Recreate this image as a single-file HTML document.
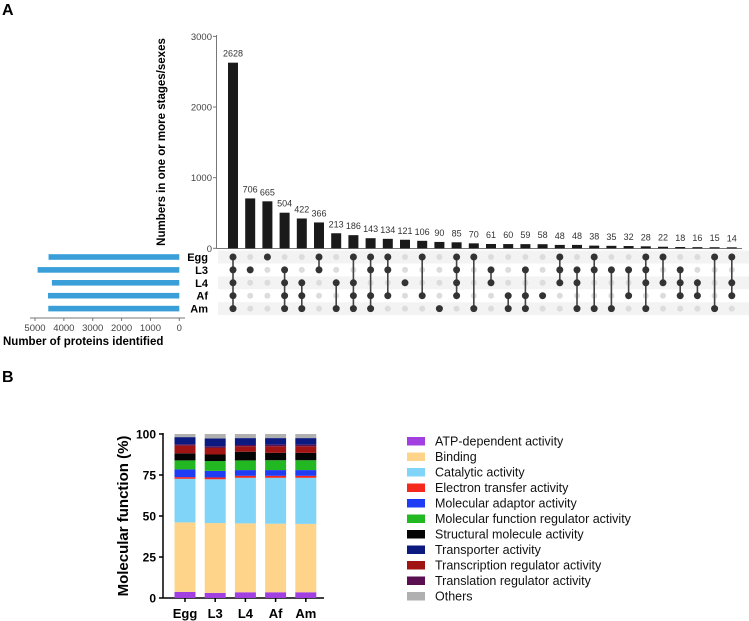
<!DOCTYPE html>
<html><head><meta charset="utf-8"><style>
html,body{margin:0;padding:0;background:#fff;}
svg{display:block;font-family:"Liberation Sans",Arial,sans-serif;}
</style></head><body>
<svg id="c" width="749" height="621" viewBox="0 0 749 621">
<text x="2" y="15" font-size="16" font-weight="bold">A</text>
<text x="2" y="382" font-size="16" font-weight="bold">B</text>
<g id="up"></g>
<g id="mf"></g>
</svg>
<script>
const interCounts=[2628,706,665,504,422,366,213,186,143,134,121,106,90,85,70,61,60,59,58,48,48,38,35,32,28,22,18,16,15,14];
const sets=["Egg","L3","L4","Af","Am"];
const interSets=[
[0,1,2,3,4],[1],[0],[1,2,3,4],[2,3,4],[0,1],[2,4],[0,2,3,4],[0,1,3,4],[0,1,3],
[2],[0,3],[4],[0,1,2,3],[0,4],[1,2],[3,4],[1,3,4],[3],[0,1,2],
[1,2,4],[0,1,4],[1,4],[1,3],[0,1,2,4],[0,2],[1,2,3],[2,3],[0,4],[0,2,3]];
const setSizes=[4530,4910,4415,4550,4540];
const yTicks=[0,1000,2000,3000];
const sizeTicks=[5000,4000,3000,2000,1000,0];
const groups=["Egg","L3","L4","Af","Am"];
const mfCats=["ATP-dependent activity","Binding","Catalytic activity","Electron transfer activity","Molecular adaptor activity","Molecular function regulator activity","Structural molecule activity","Transporter activity","Transcription regulator activity","Translation regulator activity","Others"];
const mfColors=["#a23fe0","#fdd48a","#80d4f8","#f5281e","#1f3cf5","#22b822","#050505","#0c1a80","#a01414","#5a1050","#b0b0b0"];
// percentages per category for each group
const mfEgg=[3.7,42.4,26.6,1.0,4.7,5.5,4.3,4.4,4.7,0.8,1.9];
const mfL3=[3.1,42.6,26.7,1.1,4.0,6.0,4.0,4.8,4.0,1.0,2.7];
const mfL4=[3.5,42.0,27.8,1.2,3.5,5.9,5.3,4.2,3.3,0.8,2.5];
const mfAf=[3.5,41.8,28.0,1.2,3.5,6.0,4.5,4.0,4.0,1.0,2.5];
const mfAm=[3.5,41.7,28.1,1.2,3.5,6.0,4.5,4.0,4.0,1.0,2.5];
const mfData=[mfEgg,mfL3,mfL4,mfAf,mfAm];
const stackOrder=[0,1,2,3,4,5,6,8,9,7,10];
const tMF=[0,25,50,75,100];

const NS="http://www.w3.org/2000/svg";
function mk(p,t,a,txt){const e=document.createElementNS(NS,t);for(const k in a)e.setAttribute(k,a[k]);if(txt!==undefined)e.textContent=txt;p.appendChild(e);return e;}
const up=document.getElementById('up');
const colX=i=>233+i*17.2;
const yB=v=>248.3-v*211.9/3000;
const rowY=j=>257+j*12.9;
const xS=v=>179.3-v*(179.3-35)/5000;
// axis
let e=mk(up,'line',{x1:216.5,y1:35,x2:216.5,y2:248.5,stroke:'#777','stroke-width':1});

yTicks.forEach(t=>{
 mk(up,'line',{x1:213,x2:216.5,y1:yB(t),y2:yB(t),stroke:'#777'});
 e=mk(up,'text',{x:212,y:yB(t)+3.5,'font-size':9.5,fill:'#444','text-anchor':'end'},t);
 
});
mk(up,'line',{x1:216.5,x2:742,y1:248.5,y2:248.5,stroke:'#777'});
e=mk(up,'text',{transform:'translate(165,142) rotate(-90)','font-size':11.5,'font-weight':'bold','text-anchor':'middle'},'Numbers in one or more stages/sexes');

// stripes
sets.forEach((s,j)=>{
 if(j%2==0){mk(up,'rect',{x:218,y:rowY(j)-6.4,width:531,height:12.9,fill:'#f3f3f3'});}
 e=mk(up,'text',{x:208,y:rowY(j)+4,'font-size':11,'font-weight':'bold','text-anchor':'end'},s);
 
 e=mk(up,'rect',{x:xS(setSizes[j]),y:rowY(j)-2.8,width:xS(0)-xS(setSizes[j]),height:5.6,fill:'#3a9fd8'});
 
});
interCounts.forEach((v,i)=>{
 const x=colX(i);
 e=mk(up,'rect',{x:x-5,y:yB(v),width:10,height:yB(0)-yB(v),fill:'#1a1a1a'});
 
 mk(up,'text',{x:x,y:yB(v)-6,'font-size':9,fill:'#333','text-anchor':'middle'},v);
 sets.forEach((s,j)=>mk(up,'circle',{cx:x,cy:rowY(j),r:3,fill:'#dcdcdc'}));
 const st=interSets[i];
 if(st.length>1)mk(up,'line',{x1:x,x2:x,y1:rowY(Math.min(...st)),y2:rowY(Math.max(...st)),stroke:'#444','stroke-width':1.6});
 st.forEach(j=>{e=mk(up,'circle',{cx:x,cy:rowY(j),r:3.5,fill:'#333'});
  });
});
mk(up,'line',{x1:30,x2:185,y1:318,y2:318,stroke:'#777'});
sizeTicks.forEach(t=>{
 mk(up,'line',{x1:xS(t),x2:xS(t),y1:318,y2:321,stroke:'#777'});
 e=mk(up,'text',{x:xS(t),y:331,'font-size':9.5,fill:'#444','text-anchor':'middle'},t);
 
});
e=mk(up,'text',{x:3,y:345,'font-size':11.5,'font-weight':'bold'},'Number of proteins identified');


// Panel B
const mf=document.getElementById('mf');
const yM=v=>598-v*1.64;
const gx=i=>185+i*30.2;
e=mk(mf,'line',{x1:163,x2:163,y1:433,y2:598,stroke:'#000','stroke-width':1.5});

mk(mf,'line',{x1:163,x2:324,y1:598,y2:598,stroke:'#000','stroke-width':1.5});
tMF.forEach(t=>{
 mk(mf,'line',{x1:159,x2:163,y1:yM(t),y2:yM(t),stroke:'#000','stroke-width':1.5});
 e=mk(mf,'text',{x:156,y:yM(t)+4.5,'font-size':12,'font-weight':'bold','text-anchor':'end'},t);
 
});
e=mk(mf,'text',{transform:'translate(128,516) rotate(-90)','font-size':15,'font-weight':'bold','text-anchor':'middle'},'Molecular function (%)');

groups.forEach((g,i)=>{
 let acc=0;
 stackOrder.forEach(k=>{
  const v=mfData[i][k];
  e=mk(mf,'rect',{x:gx(i)-10.5,y:yM(acc+v),width:21,height:yM(acc)-yM(acc+v),fill:mfColors[k]});
  
  acc+=v;
 });
 mk(mf,'line',{x1:gx(i),x2:gx(i),y1:598,y2:602,stroke:'#000','stroke-width':1.5});
 e=mk(mf,'text',{x:gx(i),y:618,'font-size':13,'font-weight':'bold','text-anchor':'middle'},g);
 
});
mfCats.forEach((c,k)=>{
 const y=441+k*15.5;
 e=mk(mf,'rect',{x:407,y:y-4,width:18,height:8.5,fill:mfColors[k]});
 
 e=mk(mf,'text',{x:435,y:y+4.5,'font-size':12.5,fill:'#111'},c);
 
});
</script>
</body></html>
